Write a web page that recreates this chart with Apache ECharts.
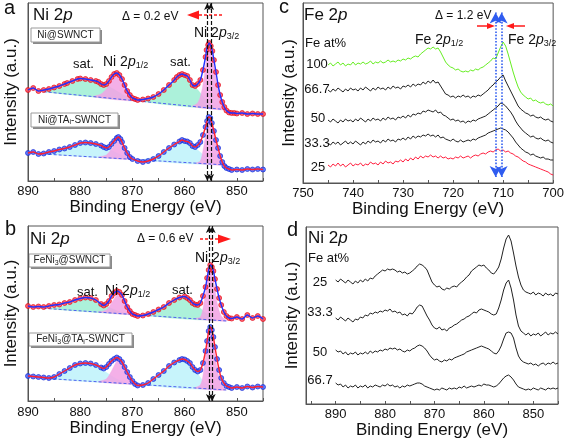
<!DOCTYPE html>
<html><head><meta charset="utf-8">
<script src="https://cdn.jsdelivr.net/npm/echarts@6/dist/echarts.min.js"></script>
<style>html,body{margin:0;padding:0;background:#fff}#c{width:567px;height:443px}</style>
</head><body><div id="c"></div>
<script>
const FONT = "'Liberation Sans', Arial, sans-serif";

// ---------- Panel a : Ni 2p (Ni@SWNCT top, Ni@TAi-SWNCT bottom) ----------
const aTopData = [[890,91],[889,93],[888,90],[887,91],[886,92],[885,93.5],[884,95],[883,97],[882.5,98],[881.5,100],[880.5,102],[880,102.5],[879,102],[878,101],[877,100],[876.5,99],[876,97],[875.5,96],[875,97],[874.5,100],[874,104],[873.5,107],[873,108],[872.5,106],[872,102],[871.5,96],[871,90],[870.5,86],[870,83],[869.5,82],[869,81],[868,81.5],[867,82.5],[866,84],[865,87],[864,91],[863,96],[862,101],[861.5,104],[861,106],[860.5,107],[860,106],[859.5,105],[859,101],[858.5,96],[858,95],[857.5,97],[857,101],[856.5,111],[856,124],[855.8,131],[855.5,136],[855.3,138],[855,135],[854.7,130],[854.4,121],[854,109],[853.6,96],[853.2,86],[852.8,79],[852.4,74],[852,70.5],[851.5,68.5],[851,68],[850.5,68],[850,67.5],[849,68],[848,67],[847,67.5],[846,67],[845,67]];
const aBotData = [[890,28],[889,29],[888,27],[887,27.5],[886,29],[885,30],[884,31.5],[883,32.5],[882,34],[881,36],[880,38],[879,38.5],[878,38],[877,37],[876,35.5],[875.5,34],[875,33],[874.5,34],[874,37],[873.5,40],[873,43],[872.7,44],[872.3,42],[872,39],[871.5,33],[871,28],[870.5,24],[870,22],[869,20],[868,19],[867,20],[866,22],[865,25],[864,29],[863,33],[862,36.5],[861,39.5],[860.5,41],[860,40],[859.5,39.5],[859,38],[858.5,35],[858,34],[857.5,36],[857,39],[856.5,46],[856,54],[855.7,60],[855.4,64],[855.1,63],[854.8,58],[854.4,50],[854,41],[853.6,33],[853.2,25],[852.8,19],[852.4,15],[852,13],[851.5,12],[851,11],[850,11.5],[849,11],[848,12],[847,11.5],[846,12],[845,11.5]];
const aTopBase = [[887,89.3],[852,71.3]];
const aTopSat1 = [[887,89.3],[885,91.5],[883,95],[881,99],[879,101],[877,100],[875,96],[873,90],[871,84],[869.5,80.5]];
const aTopPk1 = [[877.5,84.2],[876,87],[875,92],[874,100],[873,105],[872,101],[871,92],[870,85],[869,80]];
const aTopSat2 = [[868,79.5],[866,83],[864,91],[862,101],[861,105],[860,104.5],[858.5,97],[857,88],[855.5,78],[854.5,72.6]];
const aTopPk2 = [[858.5,74.6],[857.5,78],[856.8,88],[856.2,106],[855.7,127],[855.3,136],[854.9,132],[854.4,118],[853.8,98],[853.2,83],[852.5,75],[851.8,71]];
const aBotBase = [[887,27],[852,16]];
const aBotSat1 = [[887,27],[885,28.5],[883,31.5],[881,35],[879,37],[877,36],[875,33],[873,28],[871,23.5],[869.5,21.5]];
const aBotPk1 = [[876.5,23.7],[875,26],[874,32],[873,39],[872.7,41],[872,38],[871,30],[870,24],[869,21.3]];
const aBotSat2 = [[868,21],[866,24],[864,30],[862,36.5],[860.5,39],[859,37],[857.5,31],[856,24],[854.5,16.8]];
const aBotPk2 = [[857.8,17.8],[857,20],[856.5,30],[856,45],[855.5,58],[855.1,63],[854.7,58],[854.2,44],[853.6,28],[853,20],[852.2,16]];
const aShift = [855.65, 855.0];

// ---------- Panel b : Ni 2p (FeNi3@SWNCT top, FeNi3@TAi-SWNCT bottom) ----------
const bTopData = [[890,95],[889,94],[888,94.5],[887,94],[886,95],[885,96],[884,96.5],[883,98],[882,99],[881,101],[880,102.5],[879,103.5],[878,103],[877,101],[876,97],[875.5,95.5],[875,97],[874.5,100],[874,105],[873.5,108],[873,110],[872.5,109],[872,106],[871.5,100],[871,94],[870.5,90],[870,87],[869.5,86],[869,85],[868,85.5],[867,87],[866,89],[865,91.5],[864,94],[863,98],[862,101],[861,103.5],[860,104.5],[859.5,103],[859,101],[858.5,98],[858,96.5],[857.5,96],[857,98],[856.5,105],[856,114],[855.7,123],[855.4,131],[855.1,136],[854.8,134],[854.5,130],[854.2,122],[853.8,112],[853.4,103],[853,96],[852.5,89],[852,85],[851.5,83],[851,82.5],[850,84],[849,82],[848,86],[847,83],[846,85],[845,82]];
const bBotData = [[890,25],[889,24.5],[888,24],[887,23.5],[886,23],[885,24],[884,27],[883,30],[882,33],[881,36],[880,37.5],[879,38],[878,37.5],[877,36],[876,33.5],[875.5,32.5],[875,34],[874.5,37],[874,40],[873.5,42],[873,43.5],[872.5,42],[872,39],[871.5,34],[871,29],[870.5,24],[870,20],[869.5,17],[869,15.5],[868,16],[867,18],[866,22],[865,26],[864,30],[863,35],[862,38.5],[861,41],[860.5,42],[860,41.5],[859.5,40],[859,38],[858.5,34],[858,31],[857.5,29.5],[857,31],[856.5,38],[856,50],[855.7,60],[855.4,70],[855.1,74],[854.8,71],[854.5,64],[854.2,54],[853.8,42],[853.4,31],[853,23],[852.5,18],[852,15],[851.5,14],[851,13],[850,14],[849,13],[848,14.5],[847,13.5],[846,14.5],[845,14]];
const bTopBase = [[887,92.7],[852,80]];
const bTopSat1 = [[886,92.3],[884,94],[882,97],[880,100.5],[878.5,101.5],[877,100],[875.5,96.5],[874,92.5],[872,88.5],[870,86.5]];
const bTopPk1 = [[876.5,88.9],[875,91],[874,98],[873,106],[872.5,108],[872,106],[871,98],[870,90],[869,86.2]];
const bTopSat2 = [[868,85.8],[866,88],[864,94],[862,100],[860.5,103],[859,101],[857.5,95],[856,88],[854.5,81]];
const bTopPk2 = [[858,82.2],[857,84],[856.5,92],[856,108],[855.6,125],[855.2,134],[854.8,130],[854.3,115],[853.7,96],[853,85],[852,80]];
const bBotBase = [[887,22.7],[852,11]];
const bBotSat1 = [[886.5,22.5],[885,25],[883,30],[881,35],[879.5,37],[878,36],[876,32],[874,25],[872,19.5],[870,17]];
const bBotPk1 = [[876.5,19.2],[875,22],[874,30],[873,40],[872.6,42],[872,39],[871,29],[870,21],[869,16.7]];
const bBotSat2 = [[868,16.3],[866,20],[864,29],[862,38],[861,41],[859.5,39],[858,31],[856.5,20],[855,12]];
const bBotPk2 = [[858,13],[857,16],[856.5,25],[856,45],[855.6,62],[855.2,72],[854.8,68],[854.3,50],[853.7,30],[853,17],[852.2,11]];
const bShift = [855.3, 854.7];

// ---------- Panel c : Fe 2p, Fe at% series (745 -> 700 eV, 0.5 eV step) ----------
const feStart = 745, feStep = 0.5;
const fe100 = [118,120,117,119,121,118,120,117,119,118, 121,118,120,119,121,119,120,122,119,121, 120,122,120,121,123,121,122,121,123,122, 124,123,125,124,126,127,126,129,131,133, 135,134,136,134,135,131,126,121,118,116, 115,113,114,112,111,112,111,113,112,114, 113,115,116,118,120,122,125,124,130,136, 141,137,129,120,111,103,96,91,88,86, 84,85,82,83,81,80,81,79,78,79, 77];
const fe667 = [93,91,94,92,95,93,91,94,92,95, 93,94,92,95,93,96,94,92,95,93, 96,94,95,93,96,94,97,95,96,94, 97,96,98,96,99,97,99,98,101,99, 102,100,103,100,101,97,93,89,88,86, 87,85,87,86,88,86,87,85,87,86, 88,87,89,91,93,96,98,101,103,106, 108,102,97,92,87,82,77,74,72,70, 69,67,68,66,65,66,64,63,64,62, 61];
const fe50 = [63,61,64,62,60,63,61,64,62,63, 61,64,62,65,63,61,64,62,65,63, 64,62,65,63,66,64,65,63,66,65, 67,65,68,66,69,68,70,69,72,71, 73,72,71,73,70,71,68,67,65,63, 64,62,63,61,62,60,62,61,63,62, 64,65,66,67,69,71,73,75,77,80, 79,77,74,71,67,62,58,55,52,50, 48,46,47,45,44,45,43,42,43,41, 40];
const fe333 = [40,38,41,39,41,38,40,42,39,41, 39,42,40,38,41,39,42,40,43,41, 42,40,43,41,44,42,43,41,44,43, 45,43,46,44,47,45,47,46,48,47, 49,47,48,46,48,45,46,44,43,42, 44,42,41,43,41,42,43,42,44,43, 45,46,47,48,50,51,52,53,54,55, 54,53,51,48,45,41,38,35,33,31, 30,28,29,27,26,25,26,24,24,23, 23];
const fe25 = [18,16,19,17,20,17,19,16,18,20, 17,19,18,20,17,19,18,21,19,20, 18,21,19,22,20,21,19,22,21,23, 21,24,22,25,23,26,24,27,25,27, 26,28,26,27,25,27,25,26,24,25, 24,26,25,27,25,26,27,25,27,28, 27,29,30,29,31,32,31,33,34,32, 33,31,32,30,29,27,26,24,22,21, 19,18,17,16,15,14,13,12,11,9, 8];
const feLabels = ['100','66.7','50','33.3','25'];
const feShift = [711.5, 710.3];
const feShiftSpan = [6, 170.5];

// ---------- Panel d : Ni 2p, Fe at% series (890 -> 845 eV, 0.5 eV step) ----------
const niStart = 890, niStep = 0.5;
const ni25 = [124,122,125,123,121,124,122,120,123,121, 124,122,125,123,126,125,128,130,132,134, 133,135,134,135,134,132,133,131,132,130, 131,133,135,138,140,139,137,134,128,122, 119,117,118,115,114,116,115,117,118,117, 120,122,124,127,129,133,135,137,139,138, 139,136,134,131,130,133,137,145,156,165, 169,163,151,138,127,119,114,112,111,110, 112,109,111,110,108,111,109,110,108,111, 110];
const ni333 = [86,84,87,85,83,86,84,82,85,84, 87,86,89,88,91,90,92,91,93,92, 94,93,95,92,93,91,92,89,90,88, 91,90,93,97,99,98,93,88,84,79, 76,75,77,74,75,73,76,77,79,80, 82,84,85,87,88,90,92,91,94,95, 94,93,92,90,89,90,96,104,114,121, 124,116,104,89,78,73,71,69,71,68, 70,69,71,68,70,72,69,71,70,72, 70];
const ni50 = [54,52,53,50,52,49,51,50,52,49, 51,50,52,50,53,51,53,52,54,53, 55,54,56,55,56,54,55,53,52,54, 53,55,56,58,59,58,56,53,49,46, 44,45,43,42,44,43,45,44,46,47, 48,49,50,52,53,54,55,56,57,58, 57,56,55,53,51,50,53,58,65,71, 72,71,66,56,48,44,42,41,40,41, 39,40,38,40,41,39,41,40,42,40, 41];
const ni667 = [21,19,20,17,19,16,18,17,19,16, 18,17,19,16,18,17,19,18,17,19, 18,20,18,19,17,18,16,18,17,19, 18,19,20,21,21,20,18,17,16,15, 14,15,14,16,15,14,16,15,16,15, 17,16,18,16,17,18,17,18,19,18, 20,19,19,18,17,18,20,23,26,28, 29,27,24,20,17,16,15,14,15,14, 16,15,14,16,15,14,16,15,16,15, 16];
const niLabels = ['25','33.3','50','66.7'];

// ---------- axis tick labels ----------
const niTickLabels = [890,880,870,860,850];
const niMinorTicks = [895,890,885,880,875,870,865,860,855,850,845];
const feTickLabels = [750,740,730,720,710,700];
const feMinorTicks = [750,745,740,735,730,725,720,715,710,705,700];

// ---------- build ----------
const grid = (e, v) => v.map((y, i) => [e.start - e.step * i, y]);
const FE = {start: feStart, step: feStep}, NI = {start: niStart, step: niStep};

function xAxis(gi, min, max, labels, ticks, nameGap, margin) {
  return {gridIndex: gi, type: 'value', min, max, inverse: true,
    name: 'Binding Energy (eV)', nameLocation: 'middle', nameGap,
    nameTextStyle: {fontSize: 17, fontFamily: FONT, color: '#111'},
    axisLine: {show: true, onZero: false, lineStyle: {color: '#555', width: 1}},
    axisTick: {show: true, inside: true, length: 3, customValues: ticks, lineStyle: {color: '#555'}},
    axisLabel: {customValues: labels, fontSize: 13, fontFamily: FONT, color: '#111', margin},
    splitLine: {show: false}};
}
function yAxis(gi, max, nameGap) {
  return {gridIndex: gi, type: 'value', min: 0, max,
    name: 'Intensity (a.u.)', nameLocation: 'middle', nameGap, nameRotate: 90,
    nameTextStyle: {fontSize: 17, fontFamily: FONT, color: '#111'},
    axisLine: {show: true, lineStyle: {color: '#555', width: 1}},
    axisTick: {show: false}, axisLabel: {show: false}, splitLine: {show: false}};
}
function poly(gi, pts, fill) {
  return {type: 'custom', xAxisIndex: gi, yAxisIndex: gi, z: 1, silent: true, data: pts, encode: {x: 0, y: 1},
    renderItem: function (params, api) {
      if (params.dataIndex !== 0) return null;
      return {type: 'polygon', shape: {points: pts.map(p => api.coord(p)), smooth: 0.3},
        style: {fill: fill, stroke: fill, lineWidth: 0.5, opacity: 0.85}};
    }};
}
function base(gi, pts) {
  return {type: 'line', xAxisIndex: gi, yAxisIndex: gi, z: 2, data: pts, symbol: 'none', silent: true,
    lineStyle: {color: '#5060f0', width: 1, type: [3, 2]}};
}
function dots(gi, pts, fill, edge, shift) {
  const s = {type: 'scatter', xAxisIndex: gi, yAxisIndex: gi, z: 3, data: pts, symbol: 'circle', symbolSize: 5,
    itemStyle: {color: fill, borderColor: edge, borderWidth: 0.8}};
  if (shift) s.markLine = {silent: true, symbol: ['arrow', 'arrow'], symbolSize: [5, 7], label: {show: false},
    lineStyle: {color: '#111', type: [4, 2], width: 1.2}, data: shift.map(v => ({xAxis: v}))};
  return s;
}
function fit(gi, pts, color) {
  return {type: 'line', xAxisIndex: gi, yAxisIndex: gi, z: 4, data: pts, symbol: 'none', smooth: 0.3,
    lineStyle: {color, width: 1.4}};
}
function spec(gi, e, vals, color) {
  return {type: 'line', xAxisIndex: gi, yAxisIndex: gi, z: 3, data: grid(e, vals), symbol: 'none',
    lineStyle: {color, width: 1}};
}

const SAT_T = '#9eefd3', SAT_B = '#bdf2fa', PINK = '#f2a2e4';

const series = [
  // a
  poly(0, aTopSat1, SAT_T), poly(0, aTopSat2, SAT_T), poly(0, aTopPk1, PINK), poly(0, aTopPk2, PINK),
  poly(0, aBotSat1, SAT_B), poly(0, aBotSat2, SAT_B), poly(0, aBotPk1, PINK), poly(0, aBotPk2, PINK),
  base(0, aTopBase), base(0, aBotBase),
  dots(0, aTopData, '#ff4050', '#e00010', aShift), dots(0, aBotData, '#4060ff', '#1020d0'),
  fit(0, aTopData, '#2030ff'), fit(0, aBotData, '#ff2030'),
  // b
  poly(1, bTopSat1, SAT_T), poly(1, bTopSat2, SAT_T), poly(1, bTopPk1, PINK), poly(1, bTopPk2, PINK),
  poly(1, bBotSat1, SAT_B), poly(1, bBotSat2, SAT_B), poly(1, bBotPk1, PINK), poly(1, bBotPk2, PINK),
  base(1, bTopBase), base(1, bBotBase),
  dots(1, bTopData, '#ff4050', '#e00010', bShift), dots(1, bBotData, '#4060ff', '#1020d0'),
  fit(1, bTopData, '#2030ff'), fit(1, bBotData, '#ff2030'),
  // c
  Object.assign(spec(2, FE, fe100, '#66ee22'), {markLine: {silent: true, symbol: ['arrow', 'arrow'], symbolSize: [9, 11],
    label: {show: false}, lineStyle: {color: '#2f5cf0', type: 'dotted', width: 1.6},
    data: feShift.map(v => [{coord: [v, feShiftSpan[0]]}, {coord: [v, feShiftSpan[1]]}])}}),
  spec(2, FE, fe667, '#222'), spec(2, FE, fe50, '#222'), spec(2, FE, fe333, '#222'), spec(2, FE, fe25, '#ff2040'),
  // d
  spec(3, NI, ni25, '#222'), spec(3, NI, ni333, '#222'), spec(3, NI, ni50, '#222'), spec(3, NI, ni667, '#222')
];

function rt(x, y, text, size, align) {
  return {type: 'text', x, y, z: 100, silent: true, style: {text, align: align || 'left', verticalAlign: 'middle',
    fill: '#111', fontFamily: FONT, fontSize: size,
    rich: {
      n: {fontSize: size, fontFamily: FONT, fill: '#111'},
      i: {fontSize: size, fontFamily: FONT, fontStyle: 'italic', fill: '#111'},
      s: {fontSize: Math.round(size * 0.64), fontFamily: FONT, fill: '#111', padding: [Math.round(size * 0.55), 0, 0, 0]}
    }}};
}
function box(x, y, w, h, text) {
  return {type: 'group', z: 100, silent: true, children: [
    {type: 'rect', shape: {x: x + 2, y: y + 2, width: w, height: h}, style: {fill: '#8a8a8a'}},
    {type: 'rect', shape: {x, y, width: w, height: h}, style: {fill: '#fff', stroke: '#9a9a9a', lineWidth: 1}},
    {type: 'text', x: x + w / 2, y: y + h / 2, style: {text, align: 'center', verticalAlign: 'middle',
      rich: {t: {fontSize: 10, fontFamily: FONT, fill: '#222'},
             u: {fontSize: 7, fontFamily: FONT, fill: '#222', padding: [5, 0, 0, 0]}}}}
  ]};
}
function arrow(x1, xBase, xTip, y, half, dashed, color) {
  return {type: 'group', z: 100, silent: true, children: [
    {type: 'line', shape: {x1, y1: y, x2: xBase, y2: y}, style: {stroke: color, lineWidth: 1.5, lineDash: dashed ? [3, 2] : null}},
    {type: 'polygon', shape: {points: [[xTip, y], [xBase, y - half], [xBase, y + half]]}, style: {fill: color}}
  ]};
}

const graphic = [
  rt(4, 8, '{n|a}', 20), rt(5, 229, '{n|b}', 20), rt(279, 7, '{n|c}', 20), rt(287, 230, '{n|d}', 20),
  // a
  rt(33, 15, '{n|Ni 2}{i|p}', 17),
  rt(122, 16.5, '{n|Δ = 0.2 eV}', 12),
  arrow(222, 199, 187, 15, 4.5, true, '#ff1a1a'),
  rt(194, 33, '{n|Ni 2}{i|p}{s|3/2}', 14),
  rt(73, 64, '{n|sat.}', 13), rt(103, 62, '{n|Ni 2}{i|p}{s|1/2}', 14), rt(170, 62, '{n|sat.}', 13),
  box(31, 28, 69, 14, '{t|Ni@SWNCT}'),
  box(31, 113, 87, 14, '{t|Ni@TA}{u|i}{t|-SWNCT}'),
  // b
  rt(30, 239, '{n|Ni 2}{i|p}', 17),
  rt(137, 239, '{n|Δ = 0.6 eV}', 12),
  arrow(200, 218, 231, 239, 4.5, true, '#ff1a1a'),
  rt(195, 258, '{n|Ni 2}{i|p}{s|3/2}', 14),
  rt(77, 292, '{n|sat.}', 13), rt(105, 291, '{n|Ni 2}{i|p}{s|1/2}', 14), rt(172, 290, '{n|sat.}', 13),
  box(29, 254, 81, 13, '{t|FeNi}{u|3}{t|@SWNCT}'),
  box(29, 333, 103, 13, '{t|FeNi}{u|3}{t|@TA}{u|i}{t|-SWNCT}'),
  // c
  rt(304, 15, '{n|Fe 2}{i|p}', 17),
  rt(305, 43, '{n|Fe at%}', 13),
  rt(317, 64, '{n|' + feLabels[0] + '}', 13, 'center'),
  rt(317, 89, '{n|' + feLabels[1] + '}', 13, 'center'),
  rt(318, 118, '{n|' + feLabels[2] + '}', 13, 'center'),
  rt(317, 143, '{n|' + feLabels[3] + '}', 13, 'center'),
  rt(318, 167, '{n|' + feLabels[4] + '}', 13, 'center'),
  rt(435, 16, '{n|Δ = 1.2 eV}', 12),
  arrow(477, 487, 495, 26, 3, false, '#ff1a1a'),
  arrow(525, 514, 506, 26, 3, false, '#ff1a1a'),
  rt(415, 40, '{n|Fe 2}{i|p}{s|1/2}', 14),
  rt(508, 40, '{n|Fe 2}{i|p}{s|3/2}', 14),
  // d
  rt(308, 238, '{n|Ni 2}{i|p}', 17),
  rt(308, 258, '{n|Fe at%}', 13),
  rt(320, 282, '{n|' + niLabels[0] + '}', 13, 'center'),
  rt(320, 312, '{n|' + niLabels[1] + '}', 13, 'center'),
  rt(320, 352, '{n|' + niLabels[2] + '}', 13, 'center'),
  rt(320, 380, '{n|' + niLabels[3] + '}', 13, 'center')
];

const chart = echarts.init(document.getElementById('c'), null, {renderer: 'canvas'});
chart.setOption({
  animation: false,
  backgroundColor: '#fff',
  grid: [
    {left: 28, top: 3, width: 235, height: 178, show: true, borderColor: '#555', borderWidth: 1},
    {left: 28, top: 226, width: 235, height: 175, show: true, borderColor: '#555', borderWidth: 1},
    {left: 303, top: 3, width: 252, height: 180, show: true, borderColor: '#555', borderWidth: 1},
    {left: 306, top: 227, width: 252, height: 177, show: true, borderColor: '#555', borderWidth: 1}
  ],
  xAxis: [
    xAxis(0, 845, 890, niTickLabels, niMinorTicks.slice(1), 17, 4),
    xAxis(1, 845, 890, niTickLabels, niMinorTicks.slice(1), 19, 5),
    xAxis(2, 700, 750, feTickLabels, feMinorTicks, 16, 4),
    xAxis(3, 845, 896, niTickLabels, niMinorTicks, 18, 4)
  ],
  yAxis: [yAxis(0, 178, 8), yAxis(1, 175, 8), yAxis(2, 180, 5), yAxis(3, 177, 5)],
  series,
  graphic
});
</script></body></html>
